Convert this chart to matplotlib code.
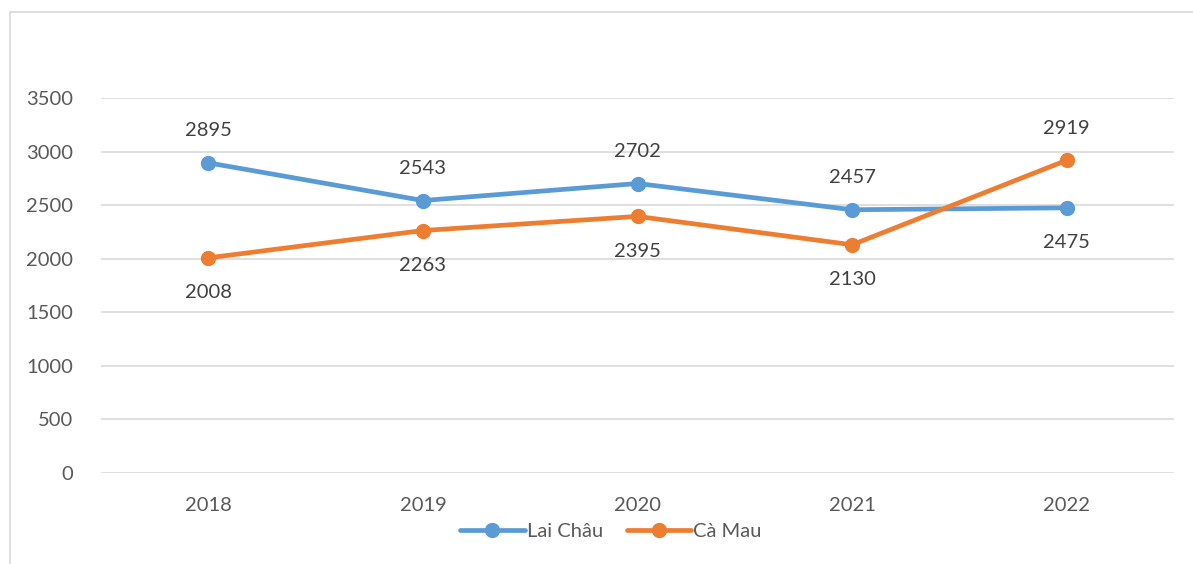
'''
Line chart: Lai Chau vs Ca Mau, 2018-2022
'''
import matplotlib
matplotlib.use('Agg')
import matplotlib.pyplot as plt
from matplotlib.patches import Rectangle

years = ['2018', '2019', '2020', '2021', '2022']
lai_chau = [2895, 2543, 2702, 2457, 2475]
ca_mau = [2008, 2263, 2395, 2130, 2919]
# label position for each point: True = above the marker
lai_chau_above = [True, True, True, True, False]
ca_mau_above = [False, False, False, False, True]

BLUE = '#5B9BD5'
ORANGE = '#ED7D31'
GRID = '#D9D9D9'
TICK_TEXT = '#595959'
LABEL_TEXT = '#404040'
FS = 14.5

plt.rcParams['font.family'] = ['Lato', 'DejaVu Sans']

fig = plt.figure(figsize=(11.93, 5.64), dpi=100)
ax = fig.add_axes([101 / 1193, 1 - 473 / 564, (1174 - 101) / 1193, (473 - 98) / 564])

# chart border
fig.patches.append(Rectangle((10 / 1193, -0.05), 1.2, 1 - 12 / 564 + 0.05,
                             transform=fig.transFigure, fill=False,
                             edgecolor=GRID, linewidth=1.2))

x = list(range(len(years)))
ax.plot(x, lai_chau, color=BLUE, lw=3.4, marker='o', ms=10, label='Lai Châu',
        solid_capstyle='round', zorder=3)
ax.plot(x, ca_mau, color=ORANGE, lw=3.4, marker='o', ms=10, label='Cà Mau',
        solid_capstyle='round', zorder=3)

for series, above in ((lai_chau, lai_chau_above), (ca_mau, ca_mau_above)):
    for i, v in enumerate(series):
        off = 23 if above[i] else -25
        ax.annotate(str(v), (i, v), xytext=(0, off), textcoords='offset points',
                    ha='center', va='center', fontsize=FS, color=LABEL_TEXT)

ax.set_xlim(-0.5, len(years) - 0.5)
ax.set_ylim(0, 3500)
ax.set_yticks(range(0, 3501, 500))
ax.set_xticks(x)
ax.set_xticklabels(years)
ax.grid(axis='y', color=GRID, lw=1.2)
ax.set_axisbelow(True)
for s in ax.spines.values():
    s.set_visible(False)
ax.tick_params(length=0, labelsize=FS, labelcolor=TICK_TEXT)
ax.tick_params(axis='y', pad=20)
ax.tick_params(axis='x', pad=17)

ax.legend(loc='center', bbox_to_anchor=(611 / 1193, 1 - 531 / 564),
          bbox_transform=fig.transFigure, ncol=2, frameon=False, fontsize=FS,
          labelcolor=TICK_TEXT, handlelength=3.2, handletextpad=0.1,
          columnspacing=1.2)

fig.savefig('out.png', dpi=100)
